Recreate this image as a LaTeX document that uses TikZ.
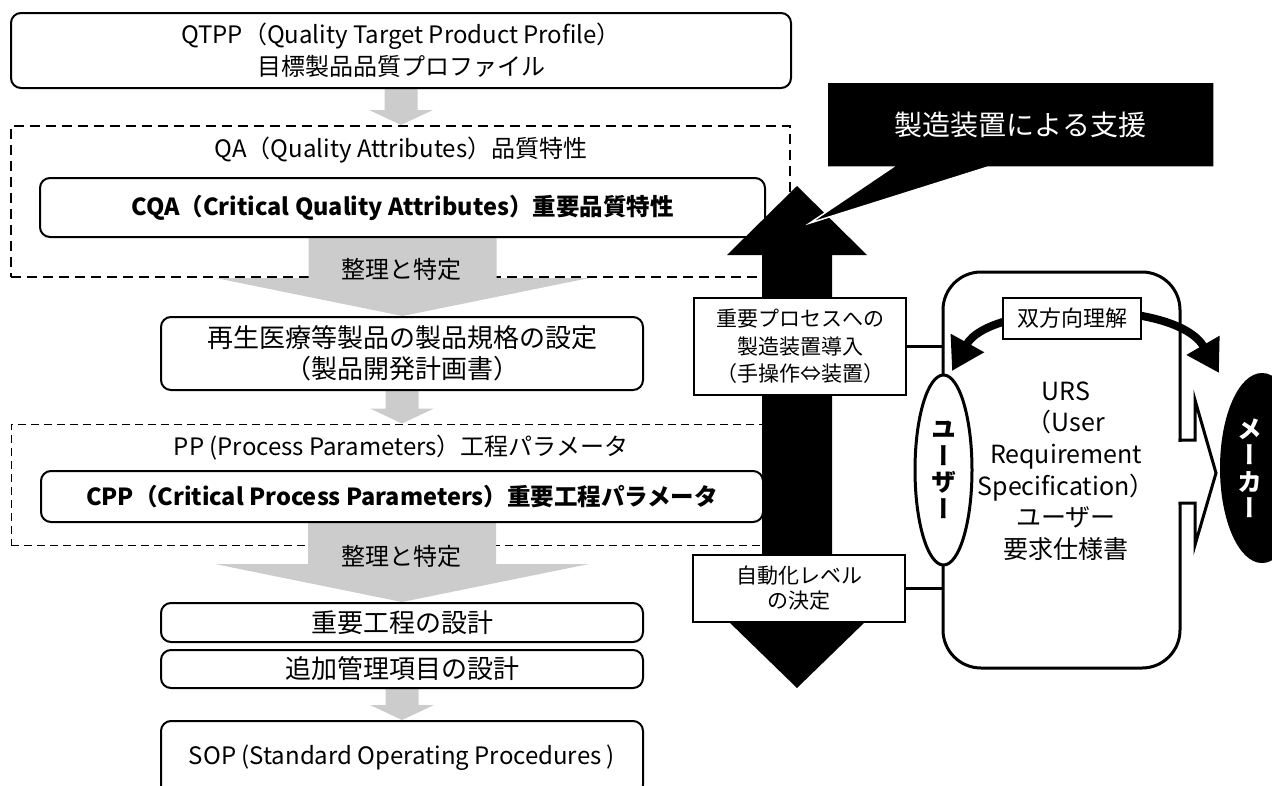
\documentclass[tikz,border=0pt]{standalone}
\usepackage{fontspec}
\setmainfont{Noto Sans CJK JP}
\newfontfamily\vertfont{Noto Sans CJK JP}[RawFeature=+vert]
\usepackage{graphicx}
\usetikzlibrary{calc,shapes.geometric,arrows.meta}
\pgfdeclarelayer{bg}
\pgfdeclarelayer{mid}
\pgfsetlayers{bg,mid,main}
\definecolor{arrowgray}{RGB}{204,204,204}
\tikzset{bighead/.tip={Triangle[width=36pt,length=32pt]}}
% #1 source anchor, #2 target anchor, #3 shaft half width, #4 head half width, #5 head length
\newcommand\grayarrow[5]{%
  \begin{pgfonlayer}{mid}
  \fill[arrowgray] let \p1=(#1), \p2=(#2) in
    (\x1-#3pt,\y1) -- (\x1+#3pt,\y1) -- (\x1+#3pt,\y2+#5pt) -- (\x1+#4pt,\y2+#5pt)
    -- (\x1,\y2) -- (\x1-#4pt,\y2+#5pt) -- (\x1-#3pt,\y2+#5pt) -- cycle;
  \end{pgfonlayer}}
\begin{document}
\begin{tikzpicture}[x=1pt,y=-1pt,
  tA/.style={font=\fontsize{24pt}{32pt}\selectfont},
  tB/.style={font=\bfseries\fontsize{23.5pt}{30pt}\selectfont},
  tC/.style={font=\fontsize{26pt}{31pt}\selectfont},
  rbox/.style={draw, line width=2pt, rounded corners=10pt, fill=white, inner sep=0pt, align=center},
  sbox/.style={draw, line width=1.5pt, fill=white, inner sep=0pt, align=center},
  groupA/.style={draw, line width=2pt, dash pattern=on 10pt off 6pt, inner sep=0pt},
  groupB/.style={draw, line width=1pt, dash pattern=on 8pt off 5pt, inner sep=0pt},
  vtext/.style={align=center, font={\vertfont\bfseries\fontsize{25pt}{26.5pt}\selectfont}},
  heavy/.style={line width=3pt}
]
\useasboundingbox (0,0) rectangle (1272,785);

% dashed groups
\begin{pgfonlayer}{bg}
\node[groupA, minimum width=779pt, minimum height=151pt] (qagroup) at (400.5,201.5) {};
\node[groupB, minimum width=779pt, minimum height=121pt] (ppgroup) at (400.5,484.5) {};
\end{pgfonlayer}

% left column
\node[rbox, tA, minimum width=780pt, minimum height=75pt] (qtpp) at (401,50.5) {QTPP（Quality Target Product Profile）\\目標製品品質プロファイル};
\node[tA] (qa) at (401,150) {QA（Quality Attributes）品質特性};
\node[rbox, tB, minimum width=725pt, minimum height=59pt] (cqa) at (402.5,207.5) {CQA（Critical Quality Attributes）重要品質特性};
\node[rbox, tC, minimum width=482pt, minimum height=73pt] (spec) at (402,353.5) {再生医療等製品の製品規格の設定\\（製品開発計画書）};
\node[tA] (pp) at (401,448) {PP (Process Parameters）工程パラメータ};
\node[rbox, tB, minimum width=722pt, minimum height=51pt] (cpp) at (402,496.5) {CPP（Critical Process Parameters）重要工程パラメータ};
\node[rbox, tC, minimum width=482pt, minimum height=39pt] (design1) at (402,622.5) {重要工程の設計};
\node[rbox, tC, minimum width=482pt, minimum height=38pt] (design2) at (402,669) {追加管理項目の設計};
\node[rbox, tA, minimum width=482pt, minimum height=74pt] (sop) at (402,758) {SOP (Standard Operating Procedures )};

% gray arrows
\grayarrow{qtpp.south}{qagroup.north}{16.5}{32}{15}
\grayarrow{cqa.south}{spec.north}{94}{187}{38}
\grayarrow{spec.south}{ppgroup.north}{16.5}{32}{15}
\grayarrow{cpp.south}{design1.north}{94}{187}{38}
\grayarrow{design2.south}{sop.north}{16.5}{32}{15}
\node[tA] (sort1) at (401,269) {整理と特定};
\node[tA] (sort2) at (401,556) {整理と特定};

% black double arrow
\fill[black] (797,186) -- (867,255) -- (832,255) -- (832,620) -- (867,620) -- (797,688)
  -- (727,620) -- (762,620) -- (762,255) -- (727,255) -- cycle;

% callout
\path[fill=black, draw=white, line width=1.5pt, line join=miter]
  (827,82) -- (1214,82) -- (1214,167) -- (988,167) -- (810,223) -- (893,167) -- (827,167) -- cycle;
\node[text=white, font=\fontsize{28pt}{34pt}\selectfont] (support) at (1020.5,125) {製造装置による支援};

% side boxes
\node[sbox, font=\fontsize{21pt}{27.5pt}\selectfont, minimum width=212pt, minimum height=97pt] (imp) at (800,346.5) {重要プロセスへの\\製造装置導入\\（手操作⇔装置）};
\node[sbox, font=\fontsize{21pt}{25pt}\selectfont, minimum width=212pt, minimum height=67pt] (autolvl) at (799,588.5) {自動化レベル\\の決定};

% URS
\node[draw, heavy, rounded corners=38pt, fill=white, minimum width=237pt, minimum height=396pt, inner sep=0pt] (urs) at (1061.5,470) {};
\fill[white] (1176,441.5) rectangle (1184,501.5);
\draw[heavy, line cap=rect, line join=miter] (1180,440) -- (1195,440) -- (1195,400) -- (1216,473) -- (1195,545) -- (1195,503) -- (1180,503);
\node[font=\fontsize{25pt}{31.6pt}\selectfont, align=center] (urstext) at (1066,471) {URS\\（User\\Requirement\\Specification）\\ユーザー\\要求仕様書};

\draw[heavy] (imp.east) -- (imp.east -| urs.west);
\draw[heavy] (autolvl.east) -- (autolvl.east -| urs.west);

% mutual understanding arrow
\coordinate (arcL) at (952,371);
\coordinate (arcR) at (1219,373);
\draw[line width=8pt, bighead-bighead]
  (arcL) .. controls (990,302) and (1175,297) .. (arcR);
\node[sbox, font=\fontsize{22pt}{26pt}\selectfont, minimum width=138pt, minimum height=41pt] (mutual) at (1072,318.5) {双方向理解};

% user / maker
\node[ellipse, draw, heavy, fill=white, minimum width=57pt, minimum height=190pt, inner sep=0pt, vtext] (user) at (943.5,470) {ユ\\ー\\ザ\\ー};
\node[ellipse, fill=black, minimum width=84pt, minimum height=190pt, inner sep=0pt] (maker) at (1262,468) {};
\node[vtext, text=white] (makertext) at (1250,468) {メ\\ー\\カ\\ー};
\end{tikzpicture}
\end{document}
